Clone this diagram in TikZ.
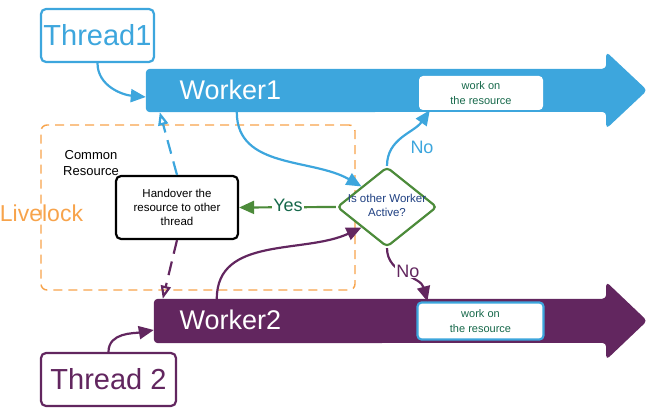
\documentclass[tikz,border=0pt]{standalone}
\usepackage{fontspec}
\setmainfont{Liberation Sans}
\usetikzlibrary{shapes.geometric,arrows.meta,calc}
\definecolor{wblue}{RGB}{61,166,221}
\definecolor{wpurple}{RGB}{98,38,95}
\definecolor{dgreen}{RGB}{76,139,58}
\definecolor{gtext}{RGB}{23,105,75}
\definecolor{lorange}{RGB}{247,163,75}
\definecolor{dblue}{RGB}{31,64,130}
\begin{document}
\begin{tikzpicture}[x=1pt,y=-1pt,
  threadbox/.style={draw, rounded corners=5pt, line width=2.2pt, inner sep=0, fill=white,
    font=\fontsize{29}{34}\selectfont},
  shaft/.style={inner sep=0, minimum height=43pt},
  wlabel/.style={anchor=west, text=white, font=\fontsize{27}{32}\selectfont},
  workbox/.style={fill=white, rounded corners=4pt, inner sep=0, align=center, text=gtext,
    font=\fontsize{11}{15}\selectfont},
  conn/.style={line width=2.2pt, -{Triangle[length=15pt,width=13pt]}},
  dconn/.style={line width=2.2pt, dash pattern=on 14pt off 8pt, -{Triangle[open,length=13pt,width=10pt]}},
  small/.style={align=center, font=\fontsize{11.5}{14}\selectfont},
  lbl/.style={font=\fontsize{18}{21}\selectfont, inner sep=1pt}]
\useasboundingbox (0,0) rectangle (656,417);

% common resource area
\node[draw=lorange, line width=1.4pt, dash pattern=on 9pt off 6pt, rounded corners=6pt,
  minimum width=314pt, minimum height=165pt, inner sep=0] (cr) at (198,207.5) {};
\node[text=lorange, font=\fontsize{23}{27}\selectfont, inner sep=0] (ll) at (41.5,213) {Livelock};
\node[align=center, font=\fontsize{13}{16}\selectfont, inner sep=0] (crl) at (91,163) {Common\\Resource};

% worker arrows
\node[shaft, minimum width=460pt] (w1) at (376,90.5) {};
\fill[wblue, rounded corners=4pt] (w1.north west) -- (w1.north east) -- ++(0,-17) -- ++(41,38.5)
  -- ++(-41,38.5) -- ++(0,-17) -- (w1.south west) -- cycle;
\node[wlabel] (w1l) at (176,90) {Worker1};

\node[shaft, minimum width=452pt, minimum height=44pt] (w2) at (380,321) {};
\fill[wpurple, rounded corners=4pt] (w2.north west) -- (w2.north east) -- ++(0,-17) -- ++(41,39)
  -- ++(-41,39) -- ++(0,-17) -- (w2.south west) -- cycle;
\node[wlabel] (w2l) at (176,320) {Worker2};

\node[workbox, minimum width=124pt, minimum height=34pt] (wb1) at (481,93) {work on\\the resource};
\node[workbox, draw=wblue, line width=2.2pt, minimum width=126pt, minimum height=37pt] (wb2) at (480.5,321) {work on\\the resource};

% threads
\node[threadbox, draw=wblue, text=wblue, minimum width=113pt, minimum height=53pt] (t1) at (97.5,35.5) {Thread1};
\node[threadbox, draw=wpurple, text=wpurple, minimum width=135pt, minimum height=53pt] (t2) at (108.5,379.5) {Thread 2};

% handover and decision
\node[draw, line width=2.2pt, rounded corners=5pt, minimum width=122pt, minimum height=63pt,
  fill=white, small] (h) at (177,207.5) {Handover the\\resource to other\\thread};
\node[diamond, draw=dgreen, line width=2.2pt, rounded corners=4pt, minimum width=100pt,
  minimum height=80pt, inner sep=0, fill=white] (d) at (387,207) {};
\node[small, text=dblue, inner sep=0] (dt) at (387,205) {Is other Worker\\Active?};

% connectors
\draw[conn, wblue] (t1.south) to[out=-90,in=175] ([yshift=-6.5pt]w1.west);
\draw[conn, wpurple] (t2.north) to[out=90,in=190] ([yshift=-9pt]w2.west);
\draw[conn, wblue] ([xshift=91pt]w1.south west) to[out=-90,in=150] (d.north west);
\draw[conn, wpurple] ([xshift=63pt]w2.north west) to[out=90,in=205] (d.south west);
\draw[conn, dgreen] (d.west) -- (h.east);
\node[lbl, fill=white, text=gtext] (yes) at (288,205) {Yes};
\draw[conn, wblue] (d.north) to[out=90,in=235] ([xshift=11pt]wb1.south west);
\node[lbl, text=wblue] (no1) at (422,147) {No};
\draw[conn, wpurple] (d.south) to[out=-90,in=105] ([xshift=11pt]wb2.north west);
\node[lbl, fill=white, text=wpurple] (no2) at (408,271) {No};
\draw[dconn, wblue] (h.north) -- ([xshift=14pt]w1.south west);
\draw[dconn, wpurple] (h.south) -- ([xshift=9pt]w2.north west);
\end{tikzpicture}
\end{document}
